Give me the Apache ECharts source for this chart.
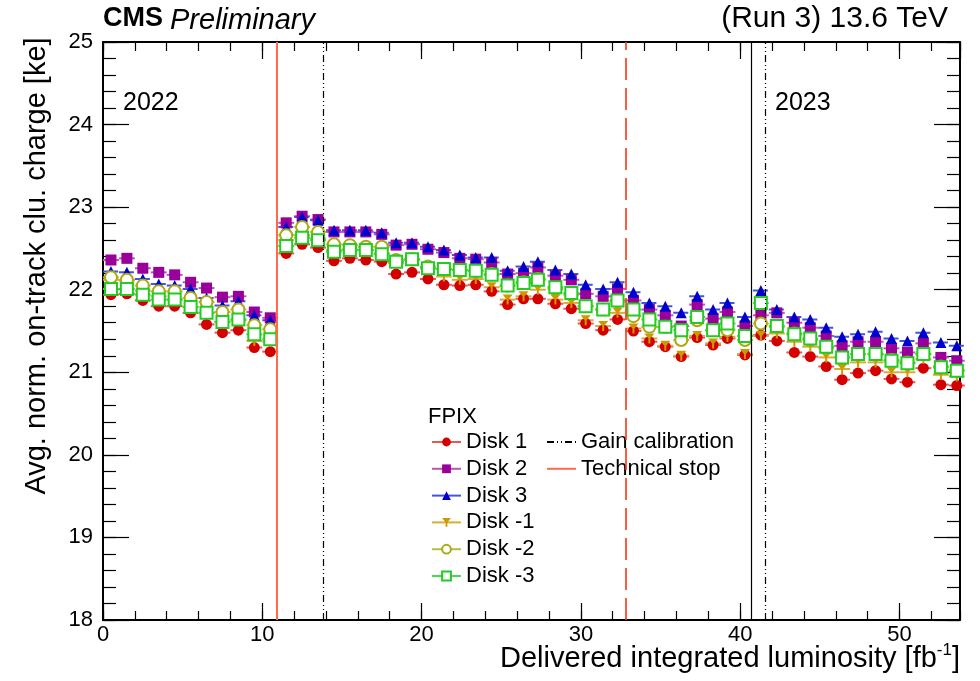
<!DOCTYPE html>
<html>
<head>
<meta charset="utf-8">
<script src="https://cdn.jsdelivr.net/npm/echarts@6/dist/echarts.min.js"></script>
<style>
    html, body { margin: 0; padding: 0; background: #ffffff; }
    #chart { width: 980px; height: 681px; }
</style>
</head>
<body>
<div id="chart"></div>
<script>
// luminosity bin centres [fb^-1]
const lumi = [
    0.5, 1.5, 2.5, 3.5, 4.5, 5.5, 6.5, 7.5, 8.5, 9.5, 10.5,
    11.5, 12.5, 13.5, 14.5, 15.5, 16.5, 17.5, 18.4, 19.4, 20.4, 21.4,
    22.4, 23.4, 24.4, 25.4, 26.4, 27.3, 28.4, 29.4, 30.3, 31.4, 32.3,
    33.3, 34.3, 35.3, 36.3, 37.3, 38.3, 39.2, 40.3, 41.3, 42.3,
    43.4, 44.4, 45.4, 46.4, 47.4, 48.5, 49.5, 50.5, 51.5, 52.6, 53.6
];

// average normalised on-track cluster charge [ke]
const disk1 = [
    21.94, 21.95, 21.87, 21.80, 21.80, 21.72, 21.58, 21.48, 21.51, 21.30, 21.25,
    22.44, 22.55, 22.51, 22.35, 22.38, 22.36, 22.34, 22.19, 22.21, 22.13, 22.06,
    22.05, 22.06, 21.98, 21.82, 21.89, 21.89, 21.83, 21.77, 21.59, 21.51, 21.64,
    21.50, 21.37, 21.31, 21.19, 21.42, 21.33, 21.41, 21.21, 21.45, 21.38,
    21.24, 21.19, 21.07, 20.91, 20.99, 21.02, 20.92, 20.88, 21.05, 20.85, 20.84
];
const disk2 = [
    22.36, 22.38, 22.26, 22.21, 22.18, 22.09, 22.02, 21.91, 21.92, 21.73, 21.66,
    22.81, 22.89, 22.85, 22.70, 22.70, 22.70, 22.67, 22.54, 22.55, 22.49, 22.45,
    22.38, 22.37, 22.33, 22.19, 22.20, 22.27, 22.17, 22.12, 21.95, 21.92, 22.01,
    21.87, 21.76, 21.69, 21.56, 21.82, 21.65, 21.73, 21.56, 21.69, 21.72,
    21.60, 21.54, 21.44, 21.32, 21.37, 21.37, 21.29, 21.24, 21.35, 21.18, 21.14
];
const disk3 = [
    22.22, 22.21, 22.13, 22.07, 22.05, 22.01, 21.90, 21.81, 21.86, 21.69, 21.63,
    22.76, 22.88, 22.84, 22.72, 22.72, 22.72, 22.69, 22.57, 22.57, 22.52, 22.48,
    22.42, 22.39, 22.39, 22.23, 22.28, 22.34, 22.24, 22.19, 22.06, 22.01, 22.09,
    21.97, 21.84, 21.80, 21.72, 21.92, 21.76, 21.84, 21.67, 21.99, 21.76,
    21.67, 21.64, 21.54, 21.43, 21.46, 21.49, 21.41, 21.38, 21.48, 21.36, 21.32
];
const diskM1 = [
    22.12, 22.11, 21.99, 21.92, 21.88, 21.79, 21.72, 21.61, 21.63, 21.38, 21.37,
    22.60, 22.66, 22.62, 22.48, 22.49, 22.48, 22.44, 22.32, 22.36, 22.26, 22.16,
    22.12, 22.13, 22.03, 21.88, 21.92, 22.00, 21.88, 21.84, 21.63, 21.56, 21.72,
    21.53, 21.41, 21.32, 21.20, 21.44, 21.35, 21.43, 21.22, 21.44, 21.47,
    21.37, 21.31, 21.18, 21.04, 21.12, 21.12, 21.00, 21.00, 21.16, 20.97, 20.95
];
const diskM2 = [
    22.15, 22.12, 22.05, 21.98, 21.98, 21.90, 21.85, 21.73, 21.76, 21.57, 21.52,
    22.66, 22.76, 22.70, 22.55, 22.54, 22.52, 22.52, 22.36, 22.37, 22.28, 22.25,
    22.24, 22.23, 22.19, 22.05, 22.09, 22.13, 22.01, 21.94, 21.80, 21.76, 21.86,
    21.68, 21.55, 21.55, 21.39, 21.63, 21.51, 21.51, 21.39, 21.59, 21.55,
    21.47, 21.39, 21.29, 21.18, 21.22, 21.22, 21.15, 21.12, 21.22, 21.07, 21.02
];
const diskM3 = [
    22.01, 22.01, 21.94, 21.88, 21.88, 21.79, 21.72, 21.61, 21.64, 21.46, 21.40,
    22.53, 22.63, 22.60, 22.46, 22.48, 22.48, 22.43, 22.34, 22.37, 22.26, 22.25,
    22.24, 22.23, 22.18, 22.05, 22.08, 22.12, 22.03, 21.96, 21.80, 21.76, 21.87,
    21.76, 21.64, 21.55, 21.51, 21.67, 21.51, 21.59, 21.44, 21.84, 21.56,
    21.46, 21.41, 21.31, 21.18, 21.22, 21.22, 21.14, 21.11, 21.22, 21.06, 21.02
];

const binHalfWidth = 0.5;

// vertical markers [fb^-1]
const technicalStops = [10.9, 32.8];
const gainCalibrations = [13.8, 41.6];
const yearBoundary = [40.7];

const disks = [
    { name: "Disk 1", values: disk1, color: "#d40000", bar: "#e05a5a", symbol: "circle", size: 11 },
    { name: "Disk 2", values: disk2, color: "#990099", bar: "#bb55bb", symbol: "rect", size: 11 },
    { name: "Disk 3", values: disk3, color: "#0000cc", bar: "#4455dd", symbol: "triangle", size: 11, dashed: true },
    { name: "Disk -1", values: diskM1, color: "#cc9900", bar: "#ddaa33", symbol: "path://M0,0 L10,0 L6,5 L6,10 L4,10 L4,5 Z", size: 10 },
    { name: "Disk -2", values: diskM2, color: "#aaaa11", bar: "#bbbb44", symbol: "emptyCircle", size: 12, border: 1.6 },
    { name: "Disk -3", values: diskM3, color: "#22cc22", bar: "#44dd44", symbol: "emptyRect", size: 12, border: 1.6 }
];

const FONT = "Liberation Sans, Arial, Helvetica, sans-serif";

function pairs(values) {
    return values.map((v, i) => [lumi[i], v]);
}

function errorBarSeries(disk) {
    return {
        type: "custom",
        name: disk.name + " err",
        z: 1,
        silent: true,
        data: pairs(disk.values),
        renderItem: (params, api) => {
            const x = api.value(0);
            const y = api.value(1);
            const a = api.coord([x - binHalfWidth, y]);
            const b = api.coord([x + binHalfWidth, y]);
            return {
                type: "line",
                shape: { x1: a[0], y1: a[1], x2: b[0], y2: b[1] },
                style: {
                    stroke: disk.bar,
                    lineWidth: 2,
                    lineDash: disk.dashed ? [6, 3] : null
                }
            };
        }
    };
}

function markerSeries(disk) {
    const itemStyle = { color: disk.color };
    if (disk.border) {
        itemStyle.borderWidth = disk.border;
    }
    return {
        type: "line",
        name: disk.name,
        z: 3,
        data: pairs(disk.values),
        symbol: disk.symbol,
        symbolSize: disk.size,
        showAllSymbol: true,
        color: disk.color,
        itemStyle: itemStyle,
        lineStyle: { color: disk.bar, width: 2, opacity: 0 },
        emphasis: { disabled: true }
    };
}

function verticalLines(values, color, type, width) {
    return {
        silent: true,
        symbol: ["none", "none"],
        label: { show: false },
        lineStyle: { color: color, type: type, width: width },
        data: values.map(v => ({ xAxis: v }))
    };
}

const series = [];
disks.forEach(d => series.push(errorBarSeries(d)));
disks.forEach(d => series.push(markerSeries(d)));

const gainDash = [7, 3, 1, 3, 1, 3];

series.push({
    type: "line",
    name: "Gain calibration",
    data: [],
    symbol: "none",
    color: "#000000",
    lineStyle: { color: "#000000", width: 1.2, type: gainDash },
    markLine: verticalLines(gainCalibrations, "#000000", gainDash, 1.2)
});
series.push({
    type: "line",
    name: "Technical stop",
    data: [],
    symbol: "none",
    color: "#ff6a4a",
    lineStyle: { color: "#ff6a4a", width: 2 },
    markLine: {
        silent: true,
        symbol: ["none", "none"],
        label: { show: false },
        data: [
            { xAxis: technicalStops[0], lineStyle: { color: "#ff6a4a", type: "solid", width: 2 } },
            { xAxis: technicalStops[1], lineStyle: { color: "#ff3311", type: [22, 8], width: 1.6 } }
        ]
    }
});
series.push({
    type: "line",
    name: "year boundary",
    data: [],
    symbol: "none",
    markLine: verticalLines(yearBoundary, "#000000", "solid", 1.2)
});

const chart = echarts.init(document.getElementById("chart"));

const tickStyle = { color: "#000", width: 1.2 };

// ROOT-style frame: every side carries inward ticks; minor ticks come from a
// second unlabelled axis with a finer interval
function xFrame(position, interval, tickLen, showLine, showLabels) {
    return {
        type: "value",
        position: position,
        min: 0,
        max: 53.8,
        interval: interval,
        axisLine: { show: showLine, onZero: false, lineStyle: { color: "#000000", width: 2 } },
        axisTick: { inside: true, length: tickLen, lineStyle: tickStyle },
        splitLine: { show: false },
        axisLabel: showLabels
            ? { color: "#000", fontSize: 22, margin: 4, fontFamily: FONT, showMaxLabel: false }
            : { show: false }
    };
}

function yFrame(position, interval, tickLen, showLine, showLabels) {
    return {
        type: "value",
        position: position,
        min: 18,
        max: 25,
        interval: interval,
        axisLine: { show: showLine, onZero: false, lineStyle: { color: "#000000", width: 2 } },
        axisTick: { inside: true, length: tickLen, lineStyle: tickStyle },
        splitLine: { show: false },
        axisLabel: showLabels
            ? { color: "#000", fontSize: 22, margin: 10, fontFamily: FONT }
            : { show: false }
    };
}

chart.setOption({
    animation: false,
    backgroundColor: "#ffffff",
    textStyle: { fontFamily: FONT },
    grid: { left: 103, right: 20, top: 42, bottom: 61 },
    xAxis: [
        xFrame("bottom", 10, 17, true, true),
        xFrame("top", 10, 17, true, false),
        xFrame("bottom", 2, 9, false, false),
        xFrame("top", 2, 9, false, false)
    ],
    yAxis: [
        yFrame("left", 1, 26, true, true),
        yFrame("right", 1, 26, true, false),
        yFrame("left", 0.2, 13, false, false),
        yFrame("right", 0.2, 13, false, false)
    ],
    legend: [
        {
            orient: "vertical",
            left: 431,
            top: 431,
            padding: 0,
            itemWidth: 29,
            itemHeight: 11,
            itemGap: 4.8,
            data: disks.map(d => d.name),
            textStyle: { color: "#000", fontSize: 22, lineHeight: 21, fontFamily: FONT },
            lineStyle: { opacity: 1, width: 2 },
            selectedMode: false
        },
        {
            orient: "vertical",
            left: 546,
            top: 431,
            padding: 0,
            itemWidth: 29,
            itemHeight: 11,
            itemGap: 4.8,
            data: [
                { name: "Gain calibration", itemStyle: { opacity: 0 } },
                { name: "Technical stop", itemStyle: { opacity: 0 } }
            ],
            textStyle: { color: "#000", fontSize: 22, lineHeight: 21, fontFamily: FONT },
            selectedMode: false
        }
    ],
    graphic: [
        {
            type: "text", left: 103, top: 5,
            style: { text: "CMS", font: "bold 27px " + FONT, fill: "#000" }
        },
        {
            type: "text", left: 170, top: 6,
            style: { text: "Preliminary", font: "italic 29px " + FONT, fill: "#000" }
        },
        {
            type: "text", right: 32, top: 4,
            style: { text: "(Run 3) 13.6 TeV", font: "30px " + FONT, fill: "#000" }
        },
        {
            type: "text", left: 123, top: 91,
            style: { text: "2022", font: "25px " + FONT, fill: "#000" }
        },
        {
            type: "text", left: 775, top: 91,
            style: { text: "2023", font: "25px " + FONT, fill: "#000" }
        },
        {
            type: "text", left: 428, top: 406,
            style: { text: "FPIX", font: "22px " + FONT, fill: "#000" }
        },
        {
            type: "text",
            x: 37, y: 266,
            rotation: Math.PI / 2,
            style: {
                text: "Avg. norm. on-track clu. charge [ke]",
                font: "29px " + FONT,
                fill: "#000",
                textAlign: "center",
                textVerticalAlign: "middle"
            }
        },
        {
            type: "text",
            right: 20, top: 642,
            style: {
                text: "{t|Delivered integrated luminosity [fb}{s|-1}{t|]}",
                rich: {
                    t: { font: "29px " + FONT, fill: "#000", verticalAlign: "bottom" },
                    s: { font: "17px " + FONT, fill: "#000", verticalAlign: "top", padding: [0, 0, 14, 0] }
                }
            }
        }
    ],
    series: series
});
</script>
</body>
</html>
